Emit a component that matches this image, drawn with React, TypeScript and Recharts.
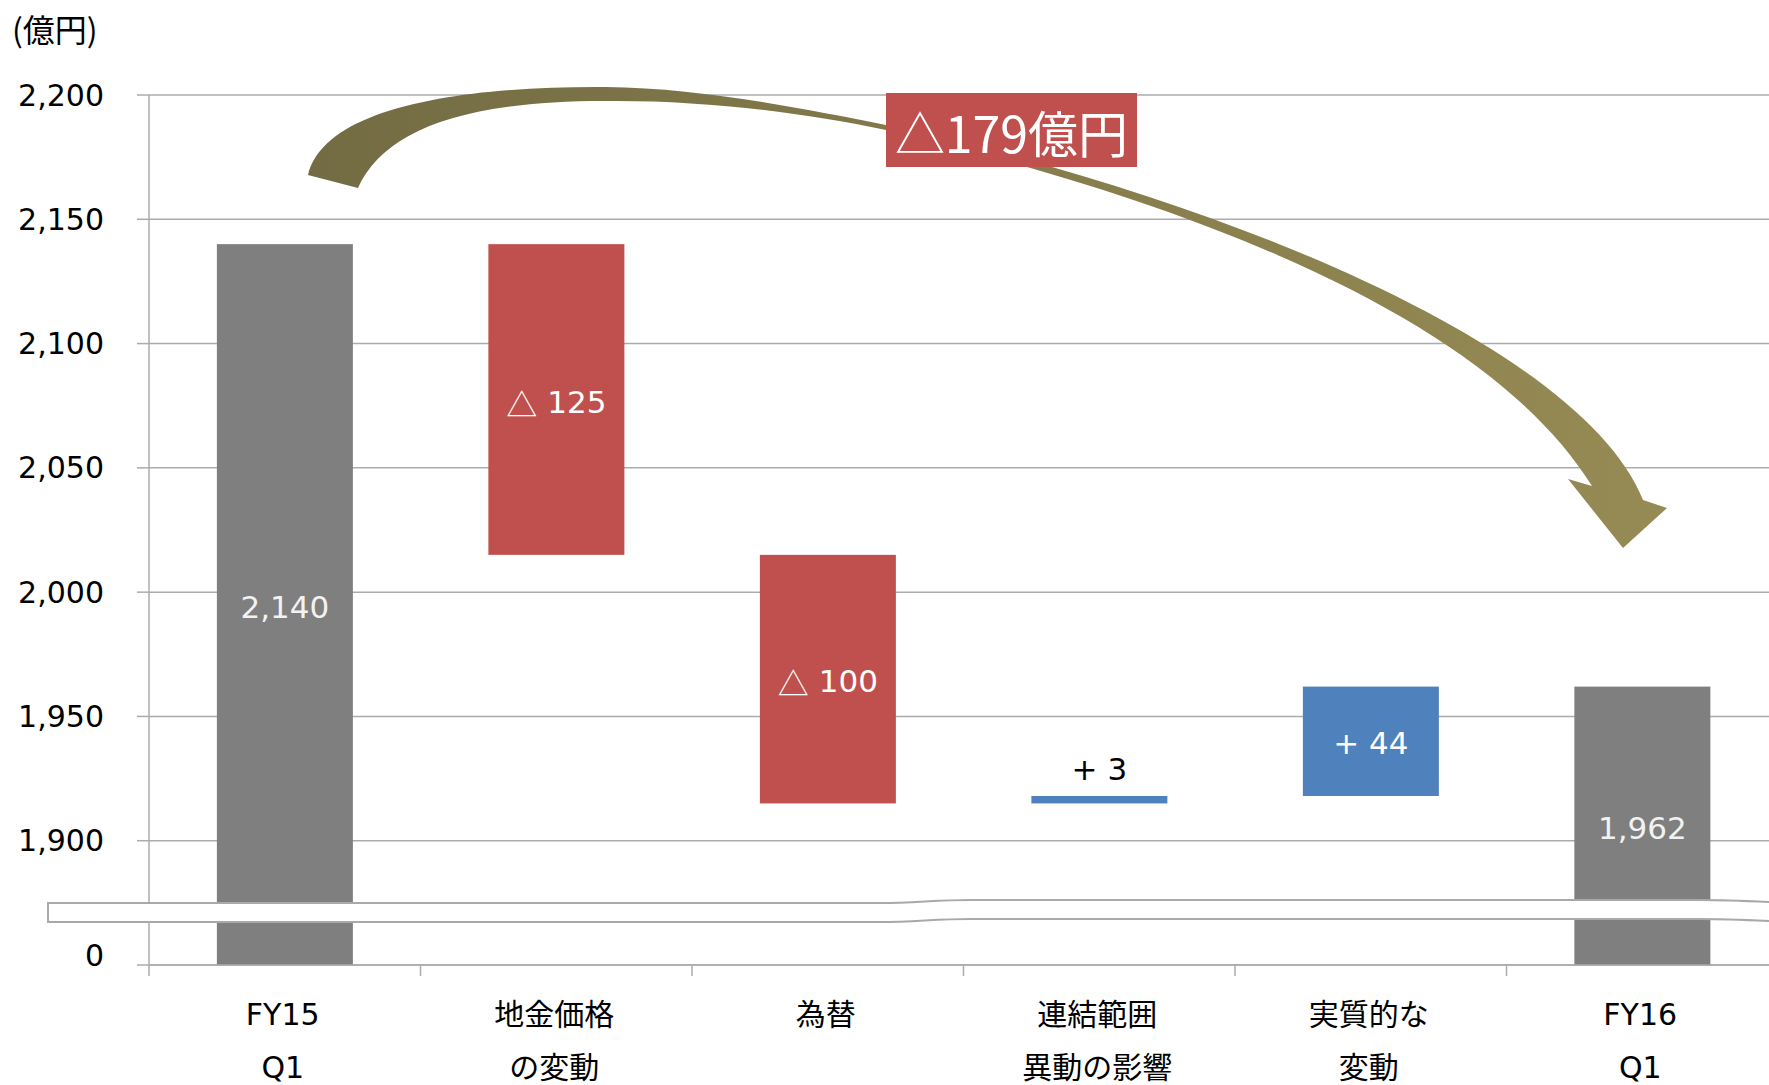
import React from 'react';
import { BarChart, Bar, XAxis, YAxis, CartesianGrid } from 'recharts';

// ---- data ----
const categories = ['FY15\nQ1', '地金価格\nの変動', '為替', '連結範囲\n異動の影響', '実質的な\n変動', 'FY16\nQ1'];
const stepKinds = ['total', 'change', 'change', 'change', 'change', 'total'];
const stepValues = [2140, -125, -100, 3, 44, 1962];
const yTicks = [1850, 1900, 1950, 2000, 2050, 2100, 2150, 2200];
const yTickLabels = ['0', '1,900', '1,950', '2,000', '2,050', '2,100', '2,150', '2,200'];
const unitLabel = '(億円)';
const totalChangeLabel = '△179億円';

// ---- layout ----
const CHART_W = 1778;
const CHART_H = 1085;
const PLOT_TOP = 95;
const X_AXIS_H = 120;
const Y_AXIS_W = 149;
const PLOT_BOTTOM = CHART_H - X_AXIS_H;
const CAT_W = (CHART_W - Y_AXIS_W) / categories.length;

const LATIN = "'DejaVu Sans', 'Noto Sans CJK JP', sans-serif";
const CJK = "'Noto Sans CJK JP', 'DejaVu Sans', sans-serif";
const GRID = '#ababab';

const COLORS: Record<string, string> = { total: '#7f7f7f', down: '#c0504d', up: '#4f81bd' };
const LABEL_COLORS: Record<string, string> = { total: '#f2f2f2', down: '#ffffff', up: '#ffffff' };

// waterfall rows: totals stand on the axis floor, changes float on the running sum
let running = 0;
const rows = categories.map((name, i) => {
  const v = stepValues[i];
  if (stepKinds[i] === 'total') {
    running = v;
    return { name, range: [0, v], kind: 'total', value: v };
  }
  const from = running;
  running += v;
  return {
    name,
    range: [Math.min(from, running), Math.max(from, running)],
    kind: v < 0 ? 'down' : 'up',
    value: v,
  };
});

// decreases are written with a leading △, increases with "+"
const StepLabel = ({ row }: { row: any }) => {
  if (row.kind === 'total') return <>{row.value.toLocaleString('en-US')}</>;
  if (row.value < 0)
    return (
      <>
        <tspan fontFamily={CJK}>△</tspan>
        <tspan>{` ${-row.value}`}</tspan>
      </>
    );
  return <>{`+ ${row.value}`}</>;
};

const WaterfallBar = (props: any) => {
  const { x, y, width, height, payload } = props;
  if (x == null || y == null) return null;
  const top = Math.min(y, y + height);
  const bottom = Math.min(Math.max(y, y + height), PLOT_BOTTOM);
  const h = Math.max(bottom - top, 0);
  const thin = h < 30;
  const cx = x + width / 2;
  const ly = thin ? top - 27 : (top + bottom) / 2 + 2;
  return (
    <g>
      <rect x={x} y={top} width={width} height={h} fill={COLORS[payload.kind]} />
      <text
        x={cx}
        y={ly}
        textAnchor="middle"
        dominantBaseline="central"
        fontSize={31}
        fontFamily={LATIN}
        fill={thin ? '#000000' : LABEL_COLORS[payload.kind]}
      >
        <StepLabel row={payload} />
      </text>
    </g>
  );
};

const CategoryTick = (props: any) => {
  const { x, payload } = props;
  const lines = String(payload.value).split('\n');
  const bx = x - CAT_W / 2;
  return (
    <g>
      <line x1={bx} x2={bx} y1={PLOT_BOTTOM} y2={PLOT_BOTTOM + 11} stroke={GRID} strokeWidth={1.5} />
      {lines.map((line, i) => (
        <text
          key={i}
          x={x - 2}
          y={PLOT_BOTTOM + 49 + i * 53}
          textAnchor="middle"
          dominantBaseline="central"
          fontSize={30}
          fontFamily={LATIN}
          fill="#000000"
        >
          {line}
        </text>
      ))}
    </g>
  );
};

// value tick; the broken-axis floor label sits a little above its tick
const ValueTick = (props: any) => {
  const { x, y, payload } = props;
  const i = yTicks.indexOf(payload.value);
  const lift = i === 0 ? 10 : 0;
  return (
    <text
      x={x}
      y={y - lift}
      textAnchor="end"
      dominantBaseline="central"
      fontSize={30}
      fontFamily={LATIN}
      fill="#000000"
    >
      {yTickLabels[i]}
    </text>
  );
};

// curved "total change" arrow: outer edge to the head, inner edge back to the tail
const arrowPath = [
  'M308,175',
  'C325,105 470,86 606,87',
  'C700,88 800,108 886,125',
  'C1236,202 1583,350 1643,500',
  'L1667,508 L1623,548 L1568,479 L1592,486',
  'C1502,341.5 1266,221 886,130',
  'C800,112 700,100 606,101',
  'C456,101 383,133 358,188',
  'Z',
].join(' ');

// axis break band between 0 and 1,900
const breakPath =
  'M48,903 L880,903 C915,903 935,900 970,900 L1700,900 C1730,900 1750,901 1790,903 ' +
  'L1790,922 C1750,920 1730,919 1700,919 L970,919 C935,919 915,922 880,922 L48,922 Z';

export default function App() {
  return (
    <div style={{ position: 'absolute', left: 0, top: 0, width: 1769, height: 1085, overflow: 'hidden', background: '#ffffff' }}>
      <BarChart
        width={CHART_W}
        height={CHART_H}
        data={rows}
        margin={{ top: PLOT_TOP, right: 0, bottom: 0, left: 0 }}
        barCategoryGap="25%"
      >
        <CartesianGrid vertical={false} stroke={GRID} strokeWidth={1.5} />
        <XAxis
          dataKey="name"
          height={X_AXIS_H}
          axisLine={{ stroke: GRID, strokeWidth: 1.5 }}
          tickLine={false}
          tick={<CategoryTick />}
          interval={0}
        />
        <YAxis
          width={Y_AXIS_W}
          domain={[1850, 2200]}
          ticks={yTicks}
          allowDataOverflow
          axisLine={{ stroke: GRID, strokeWidth: 1.5 }}
          tickLine={{ stroke: GRID, strokeWidth: 1.5 }}
          tickSize={12}
          tickMargin={33}
          tick={<ValueTick />}
        />
        <Bar dataKey="range" isAnimationActive={false} shape={<WaterfallBar />} />
      </BarChart>
      <svg
        width={1769}
        height={1085}
        style={{ position: 'absolute', left: 0, top: 0, pointerEvents: 'none' }}
      >
        <defs>
          <linearGradient id="arrowFill" gradientUnits="userSpaceOnUse" x1="300" y1="0" x2="1670" y2="0">
            <stop offset="0" stopColor="#736b43" />
            <stop offset="1" stopColor="#968b54" />
          </linearGradient>
        </defs>
        <path d={breakPath} fill="#ffffff" stroke="#a9a9a9" strokeWidth={2} />
        <path d={arrowPath} fill="url(#arrowFill)" />
        <rect x={886} y={93} width={251} height={74} fill="#c0504d" />
        <text
          x={1011.5}
          y={131}
          textAnchor="middle"
          dominantBaseline="central"
          fontSize={50}
          fontFamily={CJK}
          fill="#ffffff"
        >
          {totalChangeLabel}
        </text>
        <text x={12} y={28} dominantBaseline="central" fontSize={32} fontFamily={CJK} fill="#000000">
          {unitLabel}
        </text>
      </svg>
    </div>
  );
}
